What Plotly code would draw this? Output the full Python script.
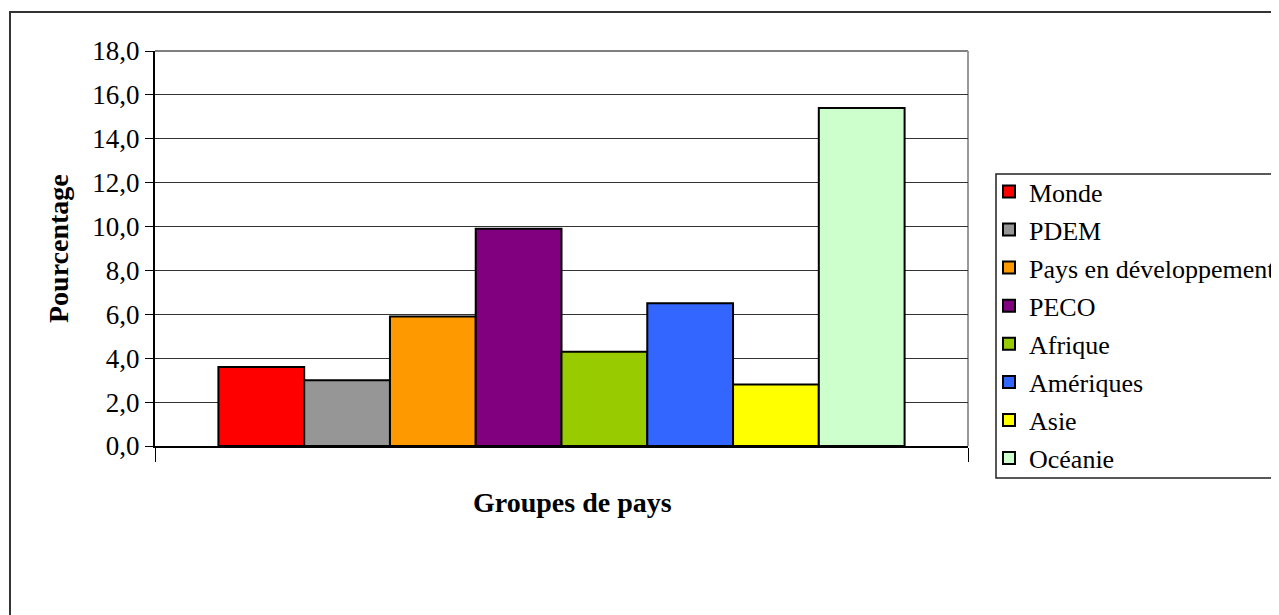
import plotly.graph_objects as go

series = ["Monde", "PDEM", "Pays en développement", "PECO", "Afrique",
          "Amériques", "Asie", "Océanie"]
values = [3.6, 3.0, 5.9, 9.9, 4.3, 6.5, 2.8, 15.4]
colors = ["#FF0000", "#969696", "#FF9900", "#800080", "#99CC00",
          "#3366FF", "#FFFF00", "#CCFFCC"]
y_ticks = [0, 2, 4, 6, 8, 10, 12, 14, 16, 18]

FONT = "Liberation Serif"

fig = go.Figure()
for name, v, c in zip(series, values, colors):
    fig.add_trace(go.Bar(
        x=[0], y=[v], name=name, legendgroup=name,
        marker=dict(color=c, line=dict(color="black", width=2)),
    ))

# page has 8px body margin: target screen coords minus 8
OFF = 8
W, H = 1279, 615
L, R, T, B = 155 - OFF, 968 - OFF, 51 - OFF, 446 - OFF
pw, ph = R - L, B - T

def px(x):
    return (x - OFF - L) / pw

def py(y):
    return (B - (y - OFF)) / ph

fig.update_layout(
    width=W, height=H,
    margin=dict(l=L, r=W - R, t=T, b=H - B, autoexpand=False),
    paper_bgcolor="white", plot_bgcolor="white",
    barmode="group", bargap=0.156, bargroupgap=0,
    separators=", ",
    font=dict(family=FONT, color="black", size=26),
    showlegend=True,
    legend=dict(
        x=px(989), y=py(168), xanchor="left", yanchor="top",
        borderwidth=0, bgcolor="rgba(0,0,0,0)",
        font=dict(family=FONT, size=26, color="black"),
        tracegroupgap=1.3, itemwidth=30,
    ),
    xaxis=dict(
        range=[-0.5, 0.5], tickmode="array", tickvals=[-0.5, 0.5],
        ticktext=["", ""], ticks="outside", ticklen=14, tickcolor="black",
        showline=True, linecolor="black", linewidth=2, showgrid=False,
        zeroline=False,
    ),
    yaxis=dict(
        range=[0, 18], tickmode="array", tickvals=y_ticks,
        tickformat=".1f", ticks="outside", ticklen=8, tickcolor="black",
        showline=True, linecolor="black", linewidth=2,
        showgrid=True, gridcolor="#333333", gridwidth=1, zeroline=False,
        tickfont=dict(family=FONT, size=27, color="black"),
    ),
    shapes=[
        dict(type="line", xref="paper", yref="paper", x0=0, x1=1, y0=1, y1=1,
             line=dict(color="#808080", width=2), layer="below"),
        dict(type="line", xref="paper", yref="paper", x0=1, x1=1, y0=0, y1=1,
             line=dict(color="#999999", width=2), layer="below"),
        # outer chart border
        dict(type="rect", xref="paper", yref="paper",
             x0=px(10), x1=px(1320), y0=py(12), y1=py(660),
             line=dict(color="#333333", width=2), layer="below"),
        # legend frame
        dict(type="rect", xref="paper", yref="paper",
             x0=px(996), x1=px(1320), y0=py(174), y1=py(478),
             line=dict(color="#222222", width=1.5), layer="below"),
    ],
    annotations=[
        dict(text="<b>Pourcentage</b>", xref="paper", yref="paper",
             x=px(58), y=py(249), textangle=-90, showarrow=False,
             font=dict(family=FONT, size=28, color="black"),
             xanchor="center", yanchor="middle"),
        dict(text="<b>Groupes de pays</b>", xref="paper", yref="paper",
             x=px(572), y=py(503), showarrow=False,
             font=dict(family=FONT, size=28, color="black"),
             xanchor="center", yanchor="middle"),
    ],
)

fig.write_html("out.html")
